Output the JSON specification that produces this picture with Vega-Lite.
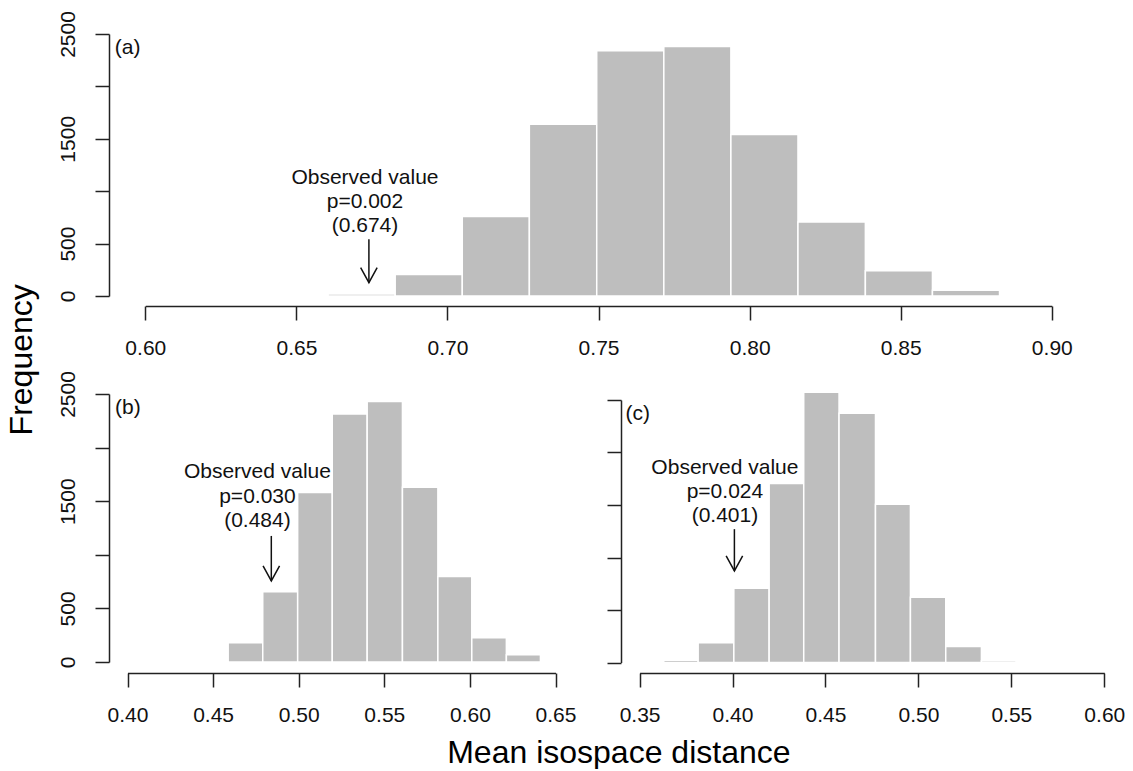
{
  "$schema": "https://vega.github.io/schema/vega-lite/v6.json",
  "background": "white",
  "padding": {"left": 6, "top": 10, "right": 2, "bottom": 0},
  "title": {"text": "Frequency", "orient": "left", "anchor": "middle", "offset": 18, "dx": 30, "fontSize": 32},
  "config": {
    "view": {"stroke": null},
    "font": "Liberation Sans",
    "title": {"font": "Liberation Sans", "fontWeight": "normal", "color": "#000000"},
    "axis": {"domainColor": "#222222", "domainWidth": 1.5, "tickColor": "#222222", "tickWidth": 1.5, "tickSize": 14, "labelFont": "Liberation Sans", "labelFontSize": 21, "labelColor": "#111111", "grid": false, "labelFlush": false, "labelOverlap": false},
    "axisX": {"labelPadding": 17},
    "axisY": {"labelAngle": -90, "labelAlign": "center", "labelBaseline": "bottom", "labelPadding": 17},
    "text": {"font": "Liberation Sans", "fontSize": 21}
  },
  "datasets": {
    "panelA": [
      {"kind": "bar", "x": 0.6605, "x2": 0.6827, "y": 18},
      {"kind": "bar", "x": 0.6827, "x2": 0.7049, "y": 205},
      {"kind": "bar", "x": 0.7049, "x2": 0.7271, "y": 758},
      {"kind": "bar", "x": 0.7271, "x2": 0.7494, "y": 1640},
      {"kind": "bar", "x": 0.7494, "x2": 0.7716, "y": 2340},
      {"kind": "bar", "x": 0.7716, "x2": 0.7938, "y": 2380},
      {"kind": "bar", "x": 0.7938, "x2": 0.816, "y": 1542},
      {"kind": "bar", "x": 0.816, "x2": 0.8383, "y": 705},
      {"kind": "bar", "x": 0.8383, "x2": 0.8605, "y": 240},
      {"kind": "bar", "x": 0.8605, "x2": 0.8827, "y": 54},
      {"kind": "note", "x": 0.6727, "y": 1234, "label": "Observed value\np=0.002\n(0.674)"},
      {"kind": "shaft", "x": 0.674, "y": 541, "y2": 127},
      {"kind": "head", "x": 0.674, "y": 127},
      {"kind": "tag", "x": 0.5899, "y": 2366, "label": "(a)"}
    ],
    "panelB": [
      {"kind": "bar", "x": 0.4588, "x2": 0.479, "y": 180},
      {"kind": "bar", "x": 0.479, "x2": 0.4994, "y": 655},
      {"kind": "bar", "x": 0.4994, "x2": 0.5196, "y": 1581},
      {"kind": "bar", "x": 0.5196, "x2": 0.54, "y": 2314},
      {"kind": "bar", "x": 0.54, "x2": 0.5606, "y": 2429},
      {"kind": "bar", "x": 0.5606, "x2": 0.5813, "y": 1630},
      {"kind": "bar", "x": 0.5813, "x2": 0.6011, "y": 798},
      {"kind": "bar", "x": 0.6011, "x2": 0.6213, "y": 227},
      {"kind": "bar", "x": 0.6213, "x2": 0.6412, "y": 68},
      {"kind": "note", "x": 0.4759, "y": 1873, "label": "Observed value\np=0.030\n(0.484)"},
      {"kind": "shaft", "x": 0.484, "y": 1176, "y2": 756},
      {"kind": "head", "x": 0.484, "y": 756},
      {"kind": "tag", "x": 0.3927, "y": 2368, "label": "(b)"}
    ],
    "panelC": [
      {"kind": "bar", "x": 0.363, "x2": 0.3815, "y": 22},
      {"kind": "bar", "x": 0.3815, "x2": 0.4007, "y": 188},
      {"kind": "bar", "x": 0.4007, "x2": 0.4197, "y": 707},
      {"kind": "bar", "x": 0.4197, "x2": 0.4383, "y": 1704},
      {"kind": "bar", "x": 0.4383, "x2": 0.4573, "y": 2573},
      {"kind": "bar", "x": 0.4573, "x2": 0.4769, "y": 2373},
      {"kind": "bar", "x": 0.4769, "x2": 0.4957, "y": 1506},
      {"kind": "bar", "x": 0.4957, "x2": 0.5147, "y": 621},
      {"kind": "bar", "x": 0.5147, "x2": 0.5339, "y": 153},
      {"kind": "bar", "x": 0.5339, "x2": 0.5525, "y": 16},
      {"kind": "note", "x": 0.3959, "y": 1959, "label": "Observed value\np=0.024\n(0.401)"},
      {"kind": "shaft", "x": 0.401, "y": 1270, "y2": 873},
      {"kind": "head", "x": 0.401, "y": 873},
      {"kind": "tag", "x": 0.3424, "y": 2368, "label": "(c)"}
    ]
  },
  "spacing": 12,
  "vconcat": [
    {
      "width": 979,
      "height": 272,
      "data": {"name": "panelA"},
      "encoding": {
        "x": {"field": "x", "type": "quantitative", "scale": {"domain": [0.6, 0.9], "range": [36.3, 942.8], "nice": false, "zero": false}, "axis": {"values": [0.6, 0.65, 0.7, 0.75, 0.8, 0.85, 0.9], "format": ".2f", "title": null}},
        "y": {"field": "y", "type": "quantitative", "scale": {"domain": [0, 2500], "range": [262, 0], "nice": false}, "axis": {"values": [0, 500, 1000, 1500, 2000, 2500], "format": "d", "labelExpr": "datum.value == 1000 || datum.value == 2000 ? '' : datum.label", "title": null}}
      },
      "layer": [
        {"transform": [{"filter": "datum.kind == 'bar'"}], "mark": {"type": "bar", "fill": "#bebebe", "stroke": "#ffffff", "strokeWidth": 1.5}, "encoding": {"x2": {"field": "x2"}, "y2": {"datum": 0}}},
        {"transform": [{"filter": "datum.kind == 'note'"}], "mark": {"type": "text", "align": "center", "baseline": "top", "lineBreak": "\n", "lineHeight": 24.3, "color": "#111111"}, "encoding": {"text": {"field": "label"}}},
        {"transform": [{"filter": "datum.kind == 'shaft'"}], "mark": {"type": "rule", "color": "#111111", "strokeWidth": 1.5}, "encoding": {"y2": {"field": "y2"}}},
        {"transform": [{"filter": "datum.kind == 'head'"}], "mark": {"type": "point", "shape": "M-0.55,-1L0,0L0.55,-1", "size": 900, "filled": false, "stroke": "#111111", "strokeWidth": 1.5, "opacity": 1}, "encoding": {}},
        {"transform": [{"filter": "datum.kind == 'tag'"}], "mark": {"type": "text", "align": "left", "baseline": "middle", "color": "#111111"}, "encoding": {"text": {"field": "label"}}}
      ]
    },
    {
      "spacing": 30,
      "title": {"text": "Mean isospace distance", "orient": "bottom", "anchor": "middle", "offset": 13, "dx": 28, "fontSize": 32},
      "hconcat": [
        {
          "width": 463,
          "height": 279,
          "data": {"name": "panelB"},
          "encoding": {
            "x": {"field": "x", "type": "quantitative", "scale": {"domain": [0.4, 0.65], "range": [18.5, 446.5], "nice": false, "zero": false}, "axis": {"values": [0.4, 0.45, 0.5, 0.55, 0.6, 0.65], "format": ".2f", "title": null}},
            "y": {"field": "y", "type": "quantitative", "scale": {"domain": [0, 2500], "range": [268, 0], "nice": false}, "axis": {"values": [0, 500, 1000, 1500, 2000, 2500], "format": "d", "labelExpr": "datum.value == 1000 || datum.value == 2000 ? '' : datum.label", "title": null}}
          },
          "layer": [
            {"transform": [{"filter": "datum.kind == 'bar'"}], "mark": {"type": "bar", "fill": "#bebebe", "stroke": "#ffffff", "strokeWidth": 1.5}, "encoding": {"x2": {"field": "x2"}, "y2": {"datum": 0}}},
            {"transform": [{"filter": "datum.kind == 'note'"}], "mark": {"type": "text", "align": "center", "baseline": "top", "lineBreak": "\n", "lineHeight": 24.3, "color": "#111111"}, "encoding": {"text": {"field": "label"}}},
            {"transform": [{"filter": "datum.kind == 'shaft'"}], "mark": {"type": "rule", "color": "#111111", "strokeWidth": 1.5}, "encoding": {"y2": {"field": "y2"}}},
            {"transform": [{"filter": "datum.kind == 'head'"}], "mark": {"type": "point", "shape": "M-0.55,-1L0,0L0.55,-1", "size": 900, "filled": false, "stroke": "#111111", "strokeWidth": 1.5, "opacity": 1}, "encoding": {}},
            {"transform": [{"filter": "datum.kind == 'tag'"}], "mark": {"type": "text", "align": "left", "baseline": "middle", "color": "#111111"}, "encoding": {"text": {"field": "label"}}}
          ]
        },
        {
          "width": 502,
          "height": 279,
          "data": {"name": "panelC"},
          "encoding": {
            "x": {"field": "x", "type": "quantitative", "scale": {"domain": [0.35, 0.6], "range": [18.6, 483.3], "nice": false, "zero": false}, "axis": {"values": [0.35, 0.4, 0.45, 0.5, 0.55, 0.6], "format": ".2f", "title": null}},
            "y": {"field": "y", "type": "quantitative", "scale": {"domain": [0, 2500], "range": [268.5, 6], "nice": false}, "axis": {"values": [0, 500, 1000, 1500, 2000, 2500], "labels": false, "title": null}}
          },
          "layer": [
            {"transform": [{"filter": "datum.kind == 'bar'"}], "mark": {"type": "bar", "fill": "#bebebe", "stroke": "#ffffff", "strokeWidth": 1.5}, "encoding": {"x2": {"field": "x2"}, "y2": {"datum": 0}}},
            {"transform": [{"filter": "datum.kind == 'note'"}], "mark": {"type": "text", "align": "center", "baseline": "top", "lineBreak": "\n", "lineHeight": 24.3, "color": "#111111"}, "encoding": {"text": {"field": "label"}}},
            {"transform": [{"filter": "datum.kind == 'shaft'"}], "mark": {"type": "rule", "color": "#111111", "strokeWidth": 1.5}, "encoding": {"y2": {"field": "y2"}}},
            {"transform": [{"filter": "datum.kind == 'head'"}], "mark": {"type": "point", "shape": "M-0.55,-1L0,0L0.55,-1", "size": 900, "filled": false, "stroke": "#111111", "strokeWidth": 1.5, "opacity": 1}, "encoding": {}},
            {"transform": [{"filter": "datum.kind == 'tag'"}], "mark": {"type": "text", "align": "left", "baseline": "middle", "color": "#111111"}, "encoding": {"text": {"field": "label"}}}
          ]
        }
      ]
    }
  ]
}
